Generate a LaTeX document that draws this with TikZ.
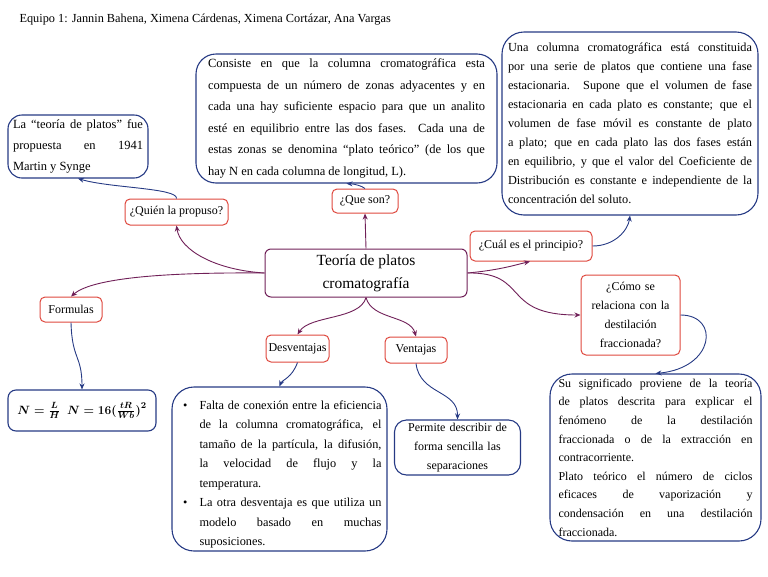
\documentclass[tikz,border=0pt]{standalone}
\usepackage{fontspec}
\setmainfont{Liberation Serif}
\usetikzlibrary{arrows.meta}
\definecolor{qred}{RGB}{222,72,62}
\definecolor{iblue}{RGB}{38,58,132}
\definecolor{mpurple}{RGB}{112,32,88}
\hyphenpenalty=10000
\exhyphenpenalty=10000
\begin{document}
\begin{tikzpicture}[x=1pt,y=-1pt,>={Stealth[length=6pt,width=5pt]}]
	\tikzset{question/.style={draw=qred,rounded corners=5pt,line width=1pt,align=center,inner sep=2pt,font=\fontsize{12}{16}\selectfont},
		infobox/.style={draw=iblue,rounded corners=14pt,line width=1.1pt,align=justify,inner sep=0pt,font=\fontsize{12.5}{21.5}\selectfont},
		mainbox/.style={draw=mpurple,rounded corners=6pt,line width=1pt,align=center,font=\fontsize{15.5}{23}\selectfont},
		mlink/.style={draw=mpurple,line width=0.9pt,->},
		blink/.style={draw=iblue,line width=0.9pt,->}}
	\useasboundingbox (0,0) rectangle (768,576);
	% titulo
	\node[anchor=west,font=\fontsize{12.3}{14}\selectfont] (equipo) at (16,20) {Equipo 1: Jannin Bahena, Ximena Cárdenas, Ximena Cortázar, Ana Vargas};
	% centro
	\node[mainbox,minimum width=202,minimum height=48] (teoria) at (366,273) {Teoría de platos\\cromatografía};
	% preguntas
	\node[question,minimum width=103,minimum height=26] (quien) at (176.5,212) {¿Quién la propuso?};
	\node[question,minimum width=66,minimum height=24] (queson) at (365,201) {¿Que son?};
	\node[question,minimum width=122,minimum height=30] (cual) at (531,246) {¿Cuál es el principio?};
	\node[question,minimum width=99,minimum height=80,text width=92,font=\fontsize{12}{19}\selectfont] (como) at (630.5,315) {¿Cómo se\\relaciona con la\\destilación\\fraccionada?};
	\node[question,minimum width=62,minimum height=25] (formulas) at (71,309.5) {Formulas};
	\node[question,minimum width=63,minimum height=27] (desv) at (297.5,348.5) {Desventajas};
	\node[question,minimum width=62,minimum height=26] (vent) at (416,350) {Ventajas};
	% cuadros de informacion
	\node[infobox,minimum width=140,minimum height=63,text width=130,font=\fontsize{12.5}{21}\selectfont] (quienfue) at (78,146.5) {La “teoría de platos” fue\linebreak propuesta en 1941\linebreak Martin y Synge};
	\node[infobox,rounded corners=20pt,minimum width=301,minimum height=129,text width=277] (consiste) at (346.5,118.5) {Consiste en que la columna cromatográfica esta compuesta de un número de zonas adyacentes y en cada una hay suficiente espacio para que un analito\linebreak esté en equilibrio entre las dos fases. Cada una de\linebreak estas zonas se denomina “plato teórico” (de los que\linebreak hay N en cada columna de longitud, L).};
	\node[infobox,rounded corners=22pt,minimum width=256,minimum height=183,text width=244,font=\fontsize{12.3}{19}\selectfont] (principio) at (630,123.5) {Una columna cromatográfica está constituida por una serie de platos que contiene una fase estacionaria. Supone que el volumen de fase estacionaria en cada plato es constante; que el volumen de fase móvil es constante de plato a plato; que en cada plato las dos fases están en equilibrio, y que el valor del Coeficiente de Distribución es constante e independiente de la concentración del soluto.};
	\node[infobox,rounded corners=22pt,minimum width=211,minimum height=167,text width=194,font=\fontsize{12}{18.6}\selectfont] (destila) at (655.5,457.5) {Su significado proviene de la teoría\linebreak de platos descrita para explicar el\linebreak fenómeno de la destilación\linebreak fraccionada o de la extracción en\linebreak contracorriente.\\Plato teórico el número de ciclos\linebreak eficaces de vaporización y\linebreak condensación en una destilación\linebreak fraccionada.};
	\node[infobox,rounded corners=8pt,minimum width=148,minimum height=41,align=center,font={\fontsize{13}{18}\selectfont\boldmath}] (ecuacion) at (82,410.5) {$N=\frac{L}{H}\ \ N=16\bigl(\frac{tR}{Wb}\bigr)^{2}$};
	\node[infobox,rounded corners=22pt,minimum width=215,minimum height=164,text width=204,font=\fontsize{12.3}{19.5}\selectfont] (desvtxt) at (279.5,469) {%
		\begin{list}{\textbullet}{\setlength{\leftmargin}{22pt}\setlength{\labelsep}{12pt}\setlength{\itemsep}{0pt}\setlength{\topsep}{0pt}\setlength{\parsep}{0pt}\setlength{\partopsep}{0pt}}
		\item Falta de conexión entre la eficiencia de la columna cromatográfica, el tamaño de la partícula, la difusión,\linebreak la velocidad de flujo y la\linebreak temperatura.
		\item La otra desventaja es que utiliza un\linebreak modelo basado en muchas suposiciones.
		\end{list}};
	\node[infobox,rounded corners=12pt,minimum width=125,minimum height=55,text width=126,align=center,font=\fontsize{12}{19}\selectfont] (permite) at (457.5,447.5) {Permite describir de\\forma sencilla las\\separaciones};
	% conectores del centro
	\draw[mlink] (teoria.west) .. controls (215,270) and (180,250) .. (quien.south);
	\draw[mlink] (teoria.west) .. controls (150,272) and (90,280) .. (formulas.north);
	\draw[mlink] (teoria.north) -- (queson.south);
	\draw[mlink] (teoria.east) .. controls (500,270) and (515,265) .. ([xshift=-1pt]cual.south);
	\draw[mlink] (teoria.east) .. controls (530,272) and (500,315) .. (como.west);
	\draw[mlink] (teoria.south) .. controls (360,320) and (310,315) .. (desv.north);
	\draw[mlink] (teoria.south) .. controls (372,320) and (410,315) .. (vent.north);
	% conectores a los cuadros
	\draw[blink] (quien.north) .. controls (178,188) and (110,188) .. (quienfue.south);
	\draw[blink] (queson.north) .. controls (362,186) and (355,184) .. (consiste.south);
	\draw[blink] (cual.east) .. controls (615,246) and (628,230) .. (principio.south);
	\draw[blink] (como.east) .. controls (720,315) and (715,368) .. (destila.north);
	\draw[blink] (formulas.south) .. controls (72,360) and (82,355) .. (ecuacion.north);
	\draw[blink] (desv.south) .. controls (292,378) and (282,380) .. (desvtxt.north);
	\draw[blink] (vent.south) .. controls (420,395) and (458,390) .. (permite.north);
\end{tikzpicture}
\end{document}
